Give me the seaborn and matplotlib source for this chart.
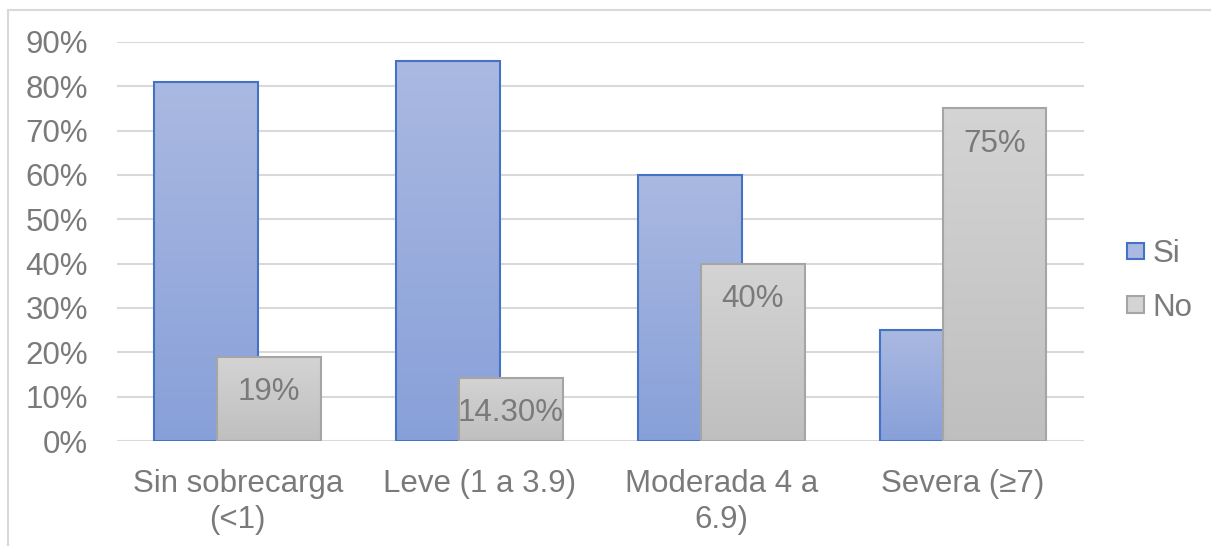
import numpy as np
import pandas as pd
import matplotlib
matplotlib.use("Agg")
import matplotlib.pyplot as plt
from matplotlib.patches import Patch
from matplotlib.lines import Line2D
from matplotlib.colors import LinearSegmentedColormap
import seaborn as sns

# Data
categorias = ["Sin sobrecarga\n(<1)", "Leve (1 a 3.9)", "Moderada 4 a\n6.9)", "Severa (≥7)"]
si_vals = [81.0, 85.7, 60.0, 25.0]
no_vals = [19.0, 14.3, 40.0, 75.0]
no_labels = ["19%", "14.30%", "40%", "75%"]
series = ["Si", "No"]
yticks = [0, 10, 20, 30, 40, 50, 60, 70, 80, 90]

df = pd.DataFrame({
    "categoria": categorias * 2,
    "porcentaje": si_vals + no_vals,
    "respuesta": ["Si"] * len(categorias) + ["No"] * len(categorias),
})

sns.set_theme(style="white")
plt.rcParams["font.family"] = ["Liberation Sans", "DejaVu Sans"]

fill_top = {"Si": "#aab9e1", "No": "#d4d4d4"}
fill_bot = {"Si": "#88a0d9", "No": "#bfbfbf"}
edge = {"Si": "#4472c4", "No": "#a5a5a5"}
text_gray = "#7a7a7a"
grid_gray = "#d9d9d9"
fs = 22.5

fig = plt.figure(figsize=(12.11, 5.46), dpi=100)
ax = fig.add_axes([0.0966, 0.1923, 0.7985, 0.7308])

sns.barplot(data=df, x="categoria", y="porcentaje", hue="respuesta",
            hue_order=series, palette=[fill_top["Si"], fill_top["No"]],
            width=0.52, dodge=True, ax=ax, legend=False, saturation=1)

bar_w = 0.43
for k, (name, cont) in enumerate(zip(series, ax.containers)):
    cmap = LinearSegmentedColormap.from_list(name, [fill_bot[name], fill_top[name]])
    for p in cont.patches:
        cx = p.get_x() + p.get_width() / 2
        p.set_x(cx - bar_w / 2)
        p.set_width(bar_w)
        p.set_facecolor("none")
        p.set_edgecolor(edge[name])
        p.set_linewidth(1.5)
        p.set_zorder(2 + 2 * k + 1)
        x0, x1 = p.get_x(), p.get_x() + p.get_width()
        h = p.get_height()
        grad = np.linspace(0, 1, 256).reshape(-1, 1)
        im = ax.imshow(grad, extent=[x0, x1, 0, h], origin="lower", cmap=cmap,
                       aspect="auto", zorder=2 + 2 * k, interpolation="bilinear")
        im.set_clip_path(p)

# Value labels inside the "No" bars
for p, lab in zip(ax.containers[1].patches, no_labels):
    ax.annotate(lab, (p.get_x() + p.get_width() / 2, p.get_height()),
                xytext=(0, -31), textcoords="offset points",
                ha="center", va="baseline", fontsize=fs, color=text_gray, zorder=10)

ax.set_xlim(-0.5, 3.5)
ax.set_ylim(0, 90)
ax.set_yticks(yticks)
ax.set_yticklabels([f"{v}%" for v in yticks])
ax.set_xlabel("")
ax.set_ylabel("")
for s in ax.spines.values():
    s.set_visible(False)
ax.yaxis.grid(True, color=grid_gray, linewidth=1.5, zorder=0)
ax.set_axisbelow(True)
ax.tick_params(axis="y", length=0, pad=21, labelsize=fs, labelcolor=text_gray)
ax.tick_params(axis="x", length=0, pad=20, labelsize=fs, labelcolor=text_gray)
for t in ax.get_xticklabels():
    t.set_linespacing(1.25)

handles = [Patch(facecolor=fill_top[s], edgecolor=edge[s], linewidth=1.5, label=s) for s in series]
fig.legend(handles=handles, loc="center left", bbox_to_anchor=(0.9306, 0.4853),
           frameon=False, fontsize=fs, labelcolor=text_gray, handlelength=0.55,
           handleheight=0.42, handletextpad=0.27, labelspacing=0.75,
           borderpad=0, borderaxespad=0)

# Chart frame
fig.add_artist(Line2D([0.0066, 1.0], [0.9817, 0.9817], transform=fig.transFigure,
                      color=grid_gray, linewidth=1.5))
fig.add_artist(Line2D([0.0066, 0.0066], [0.0, 0.9817], transform=fig.transFigure,
                      color=grid_gray, linewidth=1.5))

fig.savefig("out.png", dpi=100, facecolor="white")
